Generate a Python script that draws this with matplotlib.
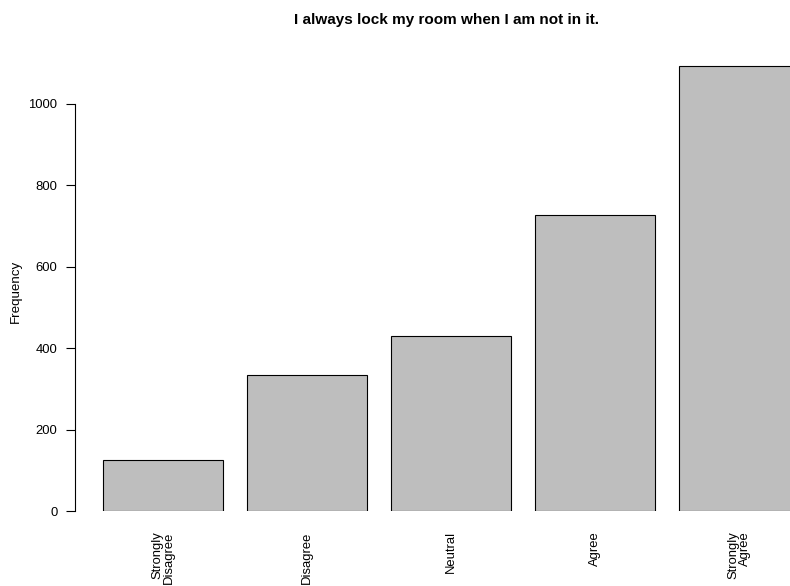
import matplotlib
matplotlib.use("Agg")
import matplotlib.pyplot as plt

# survey answers
categories = ["Strongly\nDisagree", "Disagree", "Neutral", "Agree", "Strongly\nAgree"]
counts = [125, 335, 430, 728, 1094]
y_ticks = [0, 200, 400, 600, 800, 1000]

plt.rcParams['font.family'] = ['Liberation Sans', 'DejaVu Sans']

W, H = 790, 586
fig = plt.figure(figsize=(W / 100, H / 100), dpi=100)

# axes placed in pixels: data x=0 at px 79, 120 px per bar unit; y=0 at px 511
left_px, right_px = 79, 790
bottom_px, top_px = 511, 60
ax = fig.add_axes([left_px / W, (H - bottom_px) / H,
                   (right_px - left_px) / W, (bottom_px - top_px) / H])
px_per_unit = (511 - 104) / 1000
ax.set_xlim(0, (right_px - left_px) / 120)
ax.set_ylim(0, (bottom_px - top_px) / px_per_unit)

# R barplot layout: width 1, space 0.2
xpos = [0.2 + 1.2 * i + 0.5 for i in range(len(counts))]
ax.bar(xpos, counts, width=1.0, color='#bebebe', edgecolor='black',
       linewidth=0.8)

for s in ['top', 'right', 'bottom']:
    ax.spines[s].set_visible(False)
ax.spines['left'].set_bounds(0, 1000)
ax.spines['left'].set_position(('outward', 3))
ax.spines['left'].set_linewidth(0.8)

ax.set_yticks(y_ticks)
ax.set_yticklabels([str(v) for v in y_ticks])
ax.tick_params(axis='y', length=6.5, width=0.8, pad=6, labelsize=9.4)

ax.set_xticks(xpos)
ax.set_xticklabels(categories, rotation=90, ha='center', va='top',
                   multialignment='right', linespacing=0.95)
ax.tick_params(axis='x', length=0, pad=14.5, labelsize=9.4)

fig.text(16 / W, 1 - 291 / H, "Frequency", rotation=90, ha='center', va='center', fontsize=9.6)
fig.text(447 / W, 1 - 20 / H, "I always lock my room when I am not in it.",
         ha='center', va='center', fontsize=11, fontweight='bold')

fig.savefig("out.png", dpi=100)
